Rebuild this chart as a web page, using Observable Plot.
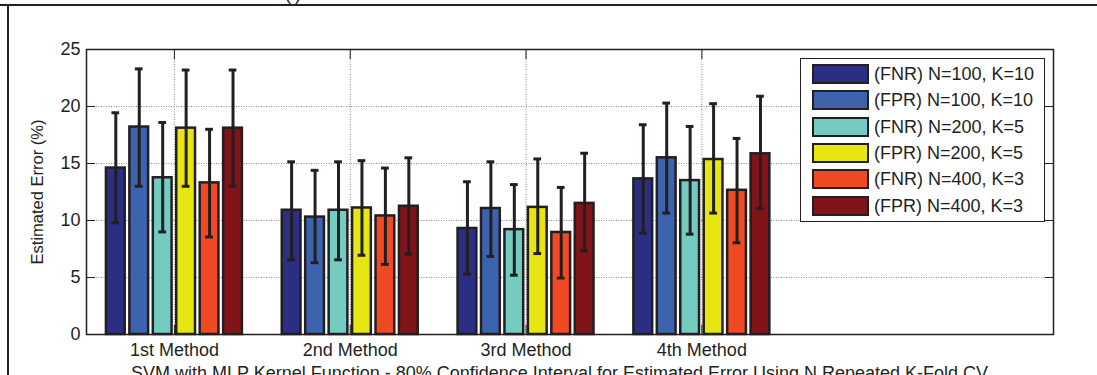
<!DOCTYPE html>
<html>
<head>
<meta charset="utf-8">
<script src="https://cdn.jsdelivr.net/npm/d3@7"></script>
<script src="https://cdn.jsdelivr.net/npm/@observablehq/plot@0.6"></script>
<style>
  html, body { margin: 0; padding: 0; background: #fff; }
  #wrap { position: relative; width: 1097px; height: 375px; overflow: hidden; background: #fff;
          font-family: "Liberation Sans", Arial, Helvetica, sans-serif; color: #231f20; }
  #chart { position: absolute; left: 0; top: 0; }
  #chart svg [aria-label="y-axis label"] text { font-size: 16.5px; }
  .border-top { position: absolute; left: 0; top: 4px; width: 1097px; height: 2px; background: #231f20; }
  .border-left { position: absolute; left: 7px; top: 4px; width: 2px; height: 380px; background: #231f20; }
  .panel { position: absolute; left: 285px; top: -15px; font-size: 18px; line-height: 18px; }
  #caption { position: absolute; left: 131px; top: 364px; font-size: 18px; line-height: 18px; white-space: nowrap; }
  #legend { position: absolute; left: 800px; top: 58px; width: 245px; height: 164px; box-sizing: border-box;
            border: 1px solid #231f20; background: #fff; }
  .row { position: absolute; left: 11px; height: 20px; display: flex; align-items: center; }
  .sw { width: 57px; height: 20px; box-sizing: border-box; border: 2.5px solid #231f20; }
  .lab { margin-left: 5px; font-size: 18px; line-height: 20px; white-space: nowrap; }
</style>
</head>
<body>
<div id="wrap">
  <div class="panel">(i)</div>
  <div id="chart"></div>
  <div id="legend"></div>
  <div id="caption">SVM with MLP Kernel Function - 80% Confidence Interval for Estimated Error Using N Repeated K-Fold CV</div>
  <div class="border-top"></div>
  <div class="border-left"></div>
</div>
<script>
const methods = ["1st Method", "2nd Method", "3rd Method", "4th Method"];
const series = ["(FNR) N=100, K=10", "(FPR) N=100, K=10", "(FNR) N=200, K=5",
                "(FPR) N=200, K=5", "(FNR) N=400, K=3", "(FPR) N=400, K=3"];
const colors = ["#2b2e82", "#3d62ae", "#74cbc0", "#e8e612", "#f04a24", "#801419"];

// mean estimated error (%) per series, one value per method
const values = [
  [14.6, 10.9, 9.3, 13.65],
  [18.2, 10.3, 11.05, 15.5],
  [13.75, 10.9, 9.2, 13.5],
  [18.1, 11.1, 11.15, 15.35],
  [13.3, 10.4, 8.95, 12.65],
  [18.1, 11.25, 11.5, 15.85]
];
// lower bound of the 80% confidence interval
const lower = [
  [9.8, 6.55, 5.3, 8.9],
  [13.0, 6.3, 6.85, 10.65],
  [9.0, 6.55, 5.2, 8.8],
  [13.0, 6.95, 7.1, 10.65],
  [8.55, 6.15, 4.95, 8.05],
  [13.0, 7.05, 7.35, 11.05]
];
// upper bound of the 80% confidence interval
const upper = [
  [19.45, 15.15, 13.4, 18.4],
  [23.3, 14.4, 15.15, 20.3],
  [18.6, 15.15, 13.15, 18.25],
  [23.2, 15.25, 15.4, 20.25],
  [18.0, 14.6, 12.9, 17.2],
  [23.2, 15.5, 15.9, 20.9]
];
const yTicks = [0, 5, 10, 15, 20, 25];

// grouped-bar layout (MATLAB style): group width 0.8, bar width 0.8 of each slot
const nS = series.length;
const slot = 0.8 / nS;
const barW = slot * 0.8;
const capHalf = 0.022;

const data = [];
series.forEach((s, si) => {
  methods.forEach((m, mi) => {
    const xc = (mi + 1) + (si - (nS - 1) / 2) * slot;
    data.push({
      series: s, method: m, xc,
      x1: xc - barW / 2, x2: xc + barW / 2,
      c1: xc - capHalf, c2: xc + capHalf,
      value: values[si][mi], lo: lower[si][mi], hi: upper[si][mi]
    });
  });
});

const ink = "#231f20";
const gridStyle = {stroke: "#8a8a8a", strokeOpacity: 1, strokeWidth: 1, strokeDasharray: "1,1.5"};

const chart = Plot.plot({
  width: 1097,
  height: 360,
  marginLeft: 86,
  marginRight: 44,
  marginTop: 49,
  marginBottom: 26,
  x: {domain: [0.5, 6]},
  y: {domain: [0, 25]},
  color: {domain: series, range: colors},
  style: {fontFamily: "'Liberation Sans', Arial, Helvetica, sans-serif", fontSize: "18px", color: ink, background: "transparent", overflow: "visible"},
  marks: [
    Plot.gridY(yTicks.slice(1, -1), gridStyle),
    Plot.gridX([1, 2, 3, 4], gridStyle),
    Plot.rectY(data, {x1: "x1", x2: "x2", y1: 0, y2: "value", fill: "series", stroke: ink, strokeWidth: 2.5}),
    Plot.ruleX(data, {x: "xc", y1: "lo", y2: "hi", stroke: ink, strokeWidth: 3}),
    Plot.ruleY(data, {y: "lo", x1: "c1", x2: "c2", stroke: ink, strokeWidth: 3}),
    Plot.ruleY(data, {y: "hi", x1: "c1", x2: "c2", stroke: ink, strokeWidth: 3}),
    Plot.axisY({ticks: yTicks, tickSize: 0, tickPadding: 6, label: "Estimated Error (%)", labelAnchor: "center", labelArrow: "none", labelOffset: 55}),
    Plot.axisY({anchor: "left", ticks: yTicks, tickSize: -9, tickFormat: () => "", label: null, stroke: ink}),
    Plot.axisY({anchor: "right", ticks: yTicks, tickSize: -9, tickFormat: () => "", label: null, stroke: ink}),
    Plot.axisX({ticks: [1, 2, 3, 4], tickSize: 0, tickPadding: 9, tickFormat: d => methods[d - 1], label: null}),
    Plot.axisX({anchor: "bottom", ticks: [1, 2, 3, 4], tickSize: -9, tickFormat: () => "", label: null, stroke: ink}),
    Plot.axisX({anchor: "top", ticks: [1, 2, 3, 4], tickSize: -9, tickFormat: () => "", label: null, stroke: ink}),
    Plot.frame({stroke: ink, strokeWidth: 1.5})
  ]
});
document.getElementById("chart").appendChild(chart);

// legend
const legend = document.getElementById("legend");
series.forEach((s, i) => {
  const row = document.createElement("div");
  row.className = "row";
  row.style.top = (5 + i * 26.3) + "px";
  const sw = document.createElement("div");
  sw.className = "sw";
  sw.style.background = colors[i];
  const lab = document.createElement("div");
  lab.className = "lab";
  lab.textContent = s;
  row.appendChild(sw);
  row.appendChild(lab);
  legend.appendChild(row);
});
</script>
</body>
</html>
